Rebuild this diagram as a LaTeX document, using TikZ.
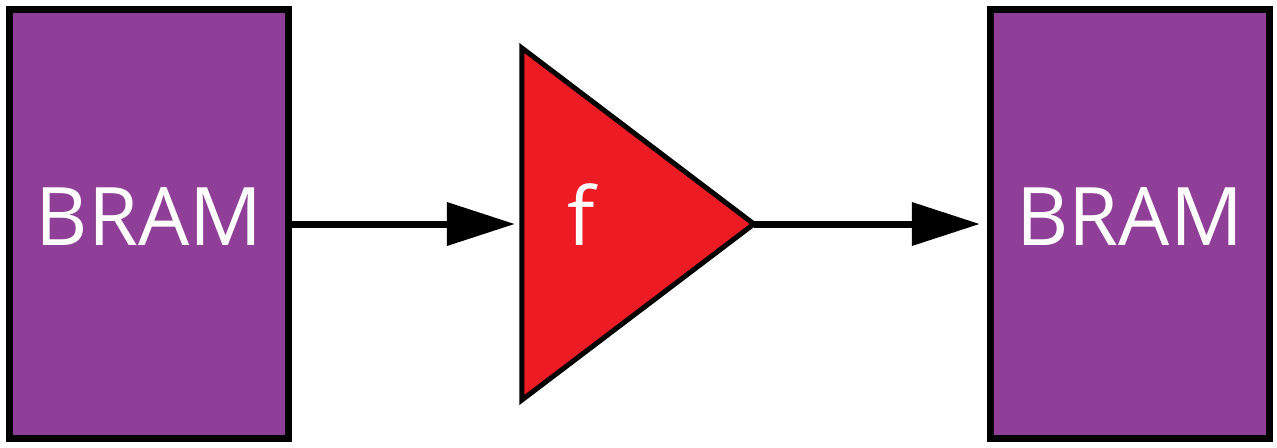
\documentclass[tikz,border=0pt]{standalone}
\usepackage{fontspec}
\newfontfamily\blockfont{Open Sans}
\usepackage{xcolor}
\usetikzlibrary{arrows.meta,positioning,shapes.geometric}
\definecolor{brampurple}{RGB}{143,63,151}
\definecolor{funcred}{RGB}{237,28,36}
\tikzset{
  mem/.style  = {draw, line width=0.14cm, fill=brampurple, rectangle,
                 minimum width=5.58cm, minimum height=8.58cm, inner sep=0pt,
                 text height=1.16cm, text depth=0.32cm,
                 text=white, font=\blockfont\fontsize{46}{56}\selectfont},
  func/.style = {draw, line width=0.1cm, fill=funcred, isosceles triangle,
                 isosceles triangle stretches, shape border rotate=0,
                 minimum width=7.04cm, minimum height=4.64cm, inner sep=0pt,
                 outer sep=0pt},
  flabel/.style = {anchor=base, inner sep=0pt, text=white,
                 font=\blockfont\fontsize{46}{56}\selectfont},
  sig/.style  = {-{Triangle[length=1.36cm, width=0.84cm]}, line width=0.14cm,
                 shorten >=0.14cm},
}

\begin{document}
\begin{tikzpicture}[x=0.02cm, y=-0.02cm]
\useasboundingbox (0,0) rectangle (1277,447);
\node[mem] (bram1) at (149,224) {BRAM};
\node[func, right=4.6cm of bram1] (fn) {};
\node[flabel] (fname) at ([xshift=1.18cm, yshift=-0.42cm]fn.west) {f};
\node[mem, right=4.66cm of fn] (bram2) {BRAM};
\draw[sig] (bram1) -- (fn);
\draw[sig] (fn) -- (bram2);
\end{tikzpicture}
\end{document}
